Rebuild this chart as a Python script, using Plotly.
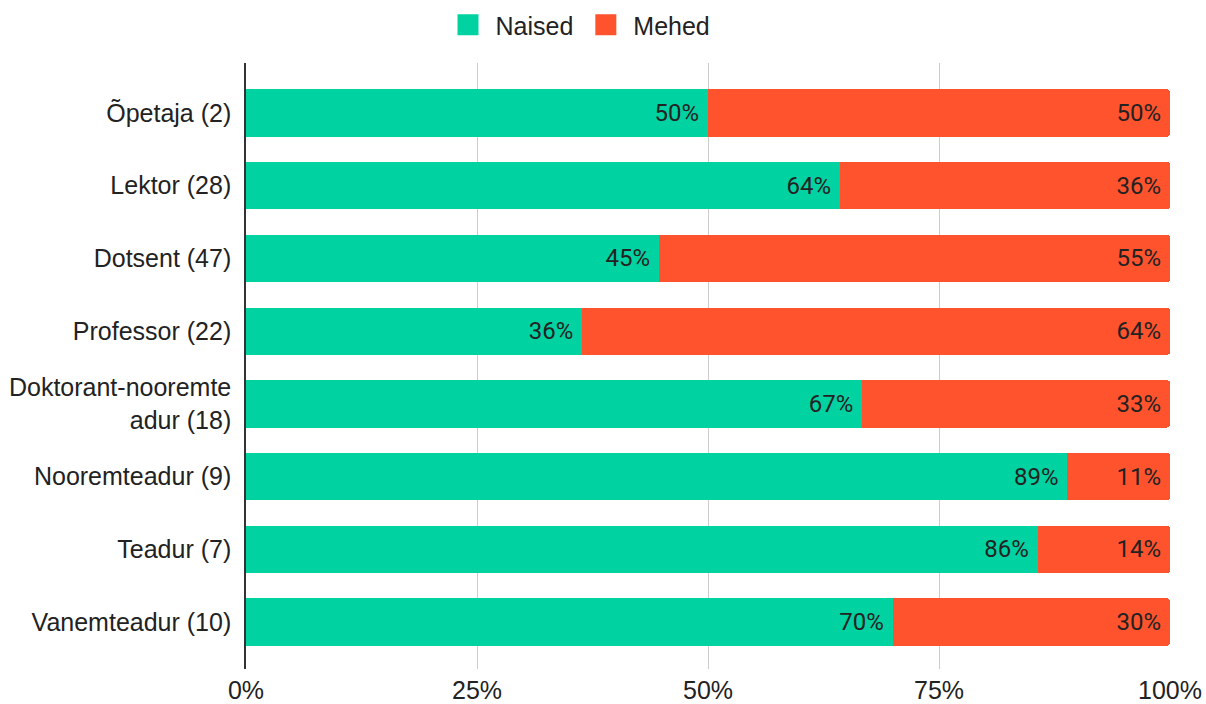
import plotly.graph_objects as go

categories = ["Õpetaja (2)", "Lektor (28)", "Dotsent (47)", "Professor (22)",
              "Doktorant-nooremte<br>adur (18)", "Nooremteadur (9)", "Teadur (7)", "Vanemteadur (10)"]
naised = [50.0, 64.3, 44.7, 36.4, 66.7, 88.9, 85.7, 70.0]
mehed = [50.0, 35.7, 55.3, 63.6, 33.3, 11.1, 14.3, 30.0]
tick_vals = [0, 25, 50, 75, 100]
tick_text = ["0%", "25%", "50%", "75%", "100%"]

GREEN = "#00d2a1"
RED = "#ff532d"
LABEL_FONT = "Liberation Sans"
BAR_FONT = "Roboto"
TXT = "#222222"

fig = go.Figure()
for name, vals, col in [("Naised", naised, GREEN), ("Mehed", mehed, RED)]:
    fig.add_trace(go.Bar(
        y=categories, x=vals, name=name, orientation="h",
        marker=dict(color=col, line=dict(width=0)),
        texttemplate="%{x:.0f}%\u00a0", textposition="inside", insidetextanchor="end",
        textangle=0, constraintext="none",
        textfont=dict(family=BAR_FONT, size=24, color=TXT),
        hoverinfo="skip", showlegend=False,
    ))
# legend swatches (no data drawn)
for name, col in [("Naised", GREEN), ("Mehed", RED)]:
    fig.add_trace(go.Scatter(
        x=[None], y=[None], name=name, mode="markers",
        marker=dict(symbol="square", size=16, color=col, line=dict(color=col, width=5)),
        hoverinfo="skip", showlegend=True,
    ))

fig.update_layout(
    width=1206, height=704,
    barmode="stack", bargap=0.35, barcornerradius=3,
    plot_bgcolor="white", paper_bgcolor="white",
    margin=dict(l=246, r=36, t=63, b=35, autoexpand=False),
    font=dict(family=LABEL_FONT, size=25, color=TXT),
    legend=dict(orientation="h", xref="container", yref="container",
                x=578 / 1206, xanchor="center", y=1 - 25 / 704, yanchor="middle",
                font=dict(family=LABEL_FONT, size=25, color=TXT),
                itemwidth=45, traceorder="normal"),
    xaxis=dict(range=[0, 100], tickvals=tick_vals, ticktext=tick_text,
               showgrid=True, gridcolor="#cccccc", gridwidth=1, automargin=False,
               zeroline=False, showline=False, ticks="", ticklabelstandoff=4,
               tickfont=dict(family=LABEL_FONT, size=25, color=TXT)),
    yaxis=dict(range=[7.646, -0.688], showline=True, linecolor="#333333", linewidth=1.5,
               ticks="", ticklabelstandoff=8, showgrid=False, zeroline=False, automargin=False,
               tickfont=dict(family=LABEL_FONT, size=25, color=TXT)),
)

fig.write_html("out.html", config={"displayModeBar": False},
               post_script="document.body.style.margin='0px';document.body.style.overflow='hidden';")
